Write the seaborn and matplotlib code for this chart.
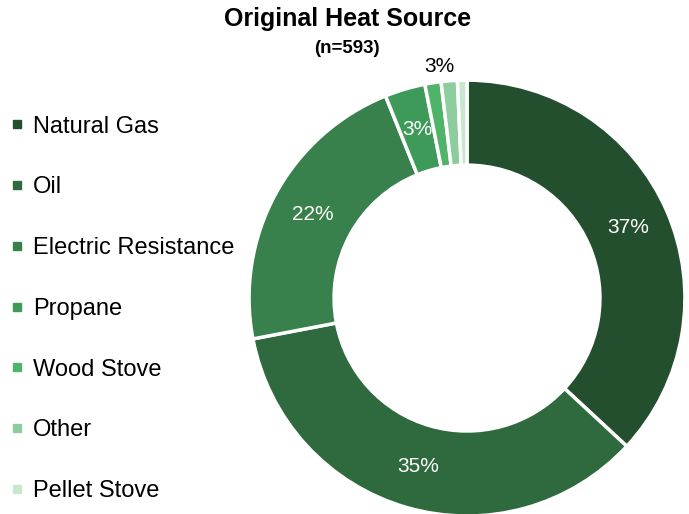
import matplotlib
matplotlib.use("Agg")
import matplotlib.pyplot as plt
from matplotlib.lines import Line2D
import numpy as np
import seaborn as sns

# data (share of respondents, n=593)
sources = ['Natural Gas', 'Oil', 'Electric Resistance', 'Propane', 'Wood Stove', 'Other', 'Pellet Stove']
shares = [36.9, 35.1, 21.9, 3.0, 1.2, 1.2, 0.7]
shown_labels = ['37%', '35%', '22%', '3%', '3%', '', '']
colors = ['#234f2e', '#2e6a3e', '#38804c', '#3e9a58', '#4fb36a', '#8dcc9c', '#c9e6cf']

sns.set_theme(style='white')
plt.rcParams['font.family'] = ['Liberation Sans', 'DejaVu Sans']
plt.rcParams['text.color'] = 'black'

fig = plt.figure(figsize=(6.89, 5.14), dpi=100)
ax = fig.add_axes([0.3614, -0.0039, 0.6328, 0.848])

ring = 0.39
wedges, _ = ax.pie(shares, colors=colors, startangle=90, counterclock=False,
                   radius=1, wedgeprops=dict(width=ring, edgecolor='white', linewidth=2.5))
ax.set_xlim(-1, 1)
ax.set_ylim(-1, 1)
ax.set_aspect('equal')

# percent labels: inside the ring, except the small slice one, which sits above
for i, (w, lab) in enumerate(zip(wedges, shown_labels)):
    if not lab:
        continue
    if i == 4:
        ang = np.deg2rad(w.theta1)
        r = 1.07
        col = 'black'
    else:
        ang = np.deg2rad((w.theta1 + w.theta2) / 2)
        r = 1 - ring / 2
        col = 'white'
    ax.text(r * np.cos(ang), r * np.sin(ang), lab, ha='center', va='center',
            fontsize=15, color=col)

fig.text(0.505, 0.964, 'Original Heat Source', ha='center', va='center',
         fontsize=18, fontweight='bold')
fig.text(0.503, 0.906, '(n=593)', ha='center', va='center',
         fontsize=13.5, fontweight='bold')

handles = [Line2D([], [], marker='s', linestyle='none', markersize=6,
                  markerfacecolor=c, markeredgecolor=c) for c in colors]
fig.legend(handles, sources, loc='center left', bbox_to_anchor=(0.015, 0.399),
           frameon=False, fontsize=17, handlelength=0.6, handletextpad=0.35,
           labelspacing=1.64, borderpad=0, borderaxespad=0)

fig.savefig('out.png', dpi=100)
